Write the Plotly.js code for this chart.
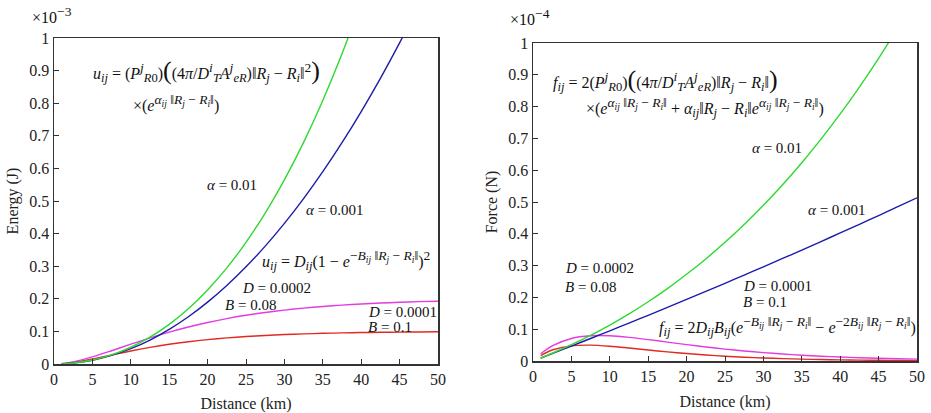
<!DOCTYPE html>
<html><head><meta charset="utf-8">
<script src="https://cdn.plot.ly/plotly-3.0.1.min.js"></script>
<style>html,body{margin:0;padding:0;background:#fff}#c{width:931px;height:413px}</style>
</head><body><div id="c"></div>
<script>
// Distance samples (km)
const distance = [1, 2.5, 5, 7.5, 10, 12.5, 15, 17.5, 20, 22.5, 25, 27.5, 30, 32.5, 35, 37.5, 40, 42.5, 45, 47.5, 50];
// Energy (x1e-3 J)
const energyAlpha001 = [0.0005, 0.0030, 0.0122, 0.0282, 0.0514, 0.0823, 0.1216, 0.1696, 0.2272, 0.2948, 0.3732, 0.4630, 0.5649, 0.6798, 0.8084, 0.9514, 1.110, null, null, null, null];
const energyAlpha0001 = [0.0005, 0.0029, 0.0117, 0.0264, 0.0470, 0.0736, 0.1062, 0.1449, 0.1898, 0.2408, 0.2980, 0.3615, 0.4313, 0.5074, 0.5899, 0.6789, 0.7744, 0.8763, 0.9850, 1.100, null];
const energyD2B08 = [0.0012, 0.0066, 0.0217, 0.0407, 0.0607, 0.0799, 0.0977, 0.1135, 0.1274, 0.1393, 0.1495, 0.1581, 0.1654, 0.1714, 0.1764, 0.1806, 0.1840, 0.1869, 0.1892, 0.1912, 0.1927];
const energyD1B1 = [0.0009, 0.0049, 0.0155, 0.0278, 0.0400, 0.0509, 0.0604, 0.0683, 0.0748, 0.0800, 0.0843, 0.0876, 0.0903, 0.0924, 0.0941, 0.0954, 0.0964, 0.0972, 0.0978, 0.0983, 0.0987];
// Force (x1e-4 N)
const forceAlpha001 = [0.0095, 0.0244, 0.0513, 0.0808, 0.1131, 0.1482, 0.1864, 0.2278, 0.2726, 0.3210, 0.3732, 0.4293, 0.4896, 0.5543, 0.6236, 0.6977, 0.7769, 0.8615, 0.9517, 1.048, null];
const forceAlpha0001 = [0.0093, 0.0234, 0.0470, 0.0708, 0.0949, 0.1192, 0.1437, 0.1685, 0.1936, 0.2188, 0.2443, 0.2701, 0.2961, 0.3224, 0.3489, 0.3757, 0.4027, 0.4299, 0.4575, 0.4853, 0.5133];
const forceD2B08 = [0.0227, 0.0475, 0.0707, 0.0792, 0.0792, 0.0744, 0.0674, 0.0595, 0.0516, 0.0442, 0.0374, 0.0315, 0.0264, 0.0220, 0.0183, 0.0151, 0.0125, 0.0103, 0.0085, 0.0070, 0.0058];
const forceD1B1 = [0.0172, 0.0345, 0.0477, 0.0499, 0.0465, 0.0409, 0.0347, 0.0287, 0.0234, 0.0189, 0.0151, 0.0120, 0.0095, 0.0075, 0.0059, 0.0046, 0.0036, 0.0028, 0.0022, 0.0017, 0.0013];
// Tick labels
const xTicks = [0, 5, 10, 15, 20, 25, 30, 35, 40, 45, 50];
const yTicks = [0, 0.1, 0.2, 0.3, 0.4, 0.5, 0.6, 0.7, 0.8, 0.9, 1];
const yTickText = ['0', '0.1', '0.2', '0.3', '0.4', '0.5', '0.6', '0.7', '0.8', '0.9', '1'];

const GREEN = '#2fd82f', BLUE = '#1c1caa', MAGENTA = '#e23ce2', RED = '#e02a22';
const FONT = '"Liberation Serif", "DejaVu Serif", serif';

function tr(y, color, xa, ya) {
  return {x: distance, y: y, xaxis: xa, yaxis: ya, mode: 'lines', connectgaps: false,
    line: {color: color, width: 1.4, shape: 'spline', smoothing: 0.8}, hoverinfo: 'skip', showlegend: false};
}
const data = [
  tr(energyD1B1, RED, 'x', 'y'), tr(energyD2B08, MAGENTA, 'x', 'y'),
  tr(energyAlpha0001, BLUE, 'x', 'y'), tr(energyAlpha001, GREEN, 'x', 'y'),
  tr(forceD1B1, RED, 'x2', 'y2'), tr(forceD2B08, MAGENTA, 'x2', 'y2'),
  tr(forceAlpha0001, BLUE, 'x2', 'y2'), tr(forceAlpha001, GREEN, 'x2', 'y2')
];

function xaxis(dom, anchor) {
  return {domain: dom, anchor: anchor, range: [0, 50], tickvals: xTicks, ticks: 'inside', ticklen: 5,
    tickcolor: '#333', linecolor: '#333', linewidth: 1.5, mirror: true, showgrid: false, zeroline: false,
    tickfont: {family: FONT, size: 16, color: '#222'},
    title: {text: 'Distance (km)', font: {family: FONT, size: 16, color: '#222'}, standoff: 12}, automargin: false};
}
function yaxis(dom, anchor, label) {
  return {domain: dom, anchor: anchor, range: [0, 1], tickvals: yTicks, ticktext: yTickText, ticks: 'inside', ticklen: 5,
    tickcolor: '#333', linecolor: '#333', linewidth: 1.5, mirror: true, showgrid: false, zeroline: false,
    tickfont: {family: FONT, size: 16, color: '#222'},
    title: {text: label, font: {family: FONT, size: 16, color: '#222'}, standoff: 6}, automargin: false};
}

const F = {family: FONT, size: 16, color: '#111'};
const FL = {family: FONT, size: 15, color: '#111'};
function ann(text, x, y, xr, yr, anchor, font) {
  return {text: text, x: x, y: y, xref: xr, yref: yr, showarrow: false,
    xanchor: anchor || 'center', yanchor: 'middle', font: font || F};
}
const big = s => '<span style="font-size:26px">' + s + '</span>';
const SUP = s => '<sup><span style="font-size:13.5px">' + s + '</span></sup>';
const SUB = s => '<sub><span style="font-size:12.5px">' + s + '</span></sub>';
const nrm = '‖<i>R</i>' + SUB('<i>j</i>') + ' − <i>R</i>' + SUB('<i>i</i>') + '‖';
const nrmSup = '‖<i>R</i><sub><i>j</i></sub> − <i>R</i><sub><i>i</i></sub>‖';

const annotations = [
  // left panel
  ann('×10' + SUP('−3'), 30/931, 1 - 15/413, 'paper', 'paper', 'left'),
  ann('<i>u</i>' + SUB('<i>ij</i>') + ' = (<i>P</i>' + SUP('<i>j</i>') + SUB('<i>R</i>0') + ')' + big('(') + '(4<i>π</i>/<i>D</i>' + SUP('<i>i</i>') + SUB('<i>T</i>') + '<i>A</i>' + SUP('<i>j</i>') + SUB('<i>eR</i>') + ')' + nrm + SUP('2') + big(')'), 4.8, 0.899, 'x', 'y', 'left'),
  ann('×(<i>e</i>' + SUP('<i>α<sub>ij</sub></i> ' + nrmSup) + ')', 10.0, 0.80, 'x', 'y', 'left'),
  ann('<i>α</i> = 0.01', 23.2, 0.549, 'x', 'y', 'center', FL),
  ann('<i>α</i> = 0.001', 36.6, 0.472, 'x', 'y', 'center', FL),
  ann('<i>u</i>' + SUB('<i>ij</i>') + ' = <i>D</i>' + SUB('<i>ij</i>') + '(1 − <i>e</i>' + SUP('−<i>B<sub>ij</sub></i> ' + nrmSup) + ')' + SUP('2'), 26.8, 0.319, 'x', 'y', 'left'),
  ann('<i>D</i> = 0.0002', 24.2, 0.232, 'x', 'y', 'left', FL),
  ann('<i>B</i> = 0.08', 22.0, 0.180, 'x', 'y', 'left', FL),
  ann('<i>D</i> = 0.0001', 40.6, 0.160, 'x', 'y', 'left', FL),
  ann('<i>B</i> = 0.1', 40.6, 0.115, 'x', 'y', 'left', FL),
  // right panel
  ann('×10' + SUP('−4'), 508/931, 1 - 17/413, 'paper', 'paper', 'left'),
  ann('<i>f</i>' + SUB('<i>ij</i>') + ' = 2(<i>P</i>' + SUP('<i>j</i>') + SUB('<i>R</i>0') + ')' + big('(') + '(4<i>π</i>/<i>D</i>' + SUP('<i>i</i>') + SUB('<i>T</i>') + '<i>A</i>' + SUP('<i>j</i>') + SUB('<i>eR</i>') + ')' + nrm + big(')'), 2.4, 0.884, 'x2', 'y2', 'left'),
  ann('×(<i>e</i>' + SUP('<i>α<sub>ij</sub></i> ' + nrmSup) + ' + <i>α</i>' + SUB('<i>ij</i>') + nrm + '<i>e</i>' + SUP('<i>α<sub>ij</sub></i> ' + nrmSup) + ')', 6.6, 0.796, 'x2', 'y2', 'left'),
  ann('<i>α</i> = 0.01', 31.8, 0.670, 'x2', 'y2', 'center', FL),
  ann('<i>α</i> = 0.001', 39.6, 0.475, 'x2', 'y2', 'center', FL),
  ann('<i>D</i> = 0.0002', 3.9, 0.292, 'x2', 'y2', 'left', FL),
  ann('<i>B</i> = 0.08', 3.9, 0.233, 'x2', 'y2', 'left', FL),
  ann('<i>D</i> = 0.0001', 27.1, 0.236, 'x2', 'y2', 'left', FL),
  ann('<i>B</i> = 0.1', 27.1, 0.186, 'x2', 'y2', 'left', FL),
  ann('<i>f</i>' + SUB('<i>ij</i>') + ' = 2<i>D</i>' + SUB('<i>ij</i>') + '<i>B</i>' + SUB('<i>ij</i>') + '(<i>e</i>' + SUP('−<i>B<sub>ij</sub></i> ' + nrmSup) + ' − <i>e</i>' + SUP('−2<i>B<sub>ij</sub></i> ' + nrmSup) + ')', 16.2, 0.107, 'x2', 'y2', 'left')
];

const layout = {
  width: 931, height: 413, margin: {l: 0, r: 0, t: 0, b: 0},
  paper_bgcolor: '#fff', plot_bgcolor: '#fff', showlegend: false,
  xaxis: xaxis([54/931, 438/931], 'y'),
  yaxis: yaxis([1 - 364/413, 1 - 38/413], 'x', 'Energy (J)'),
  xaxis2: xaxis([533/931, 917/931], 'y2'),
  yaxis2: yaxis([1 - 361/413, 1 - 43/413], 'x2', 'Force (N)'),
  annotations: annotations
};
Plotly.newPlot('c', data, layout, {staticPlot: true, displayModeBar: false});
</script></body></html>
